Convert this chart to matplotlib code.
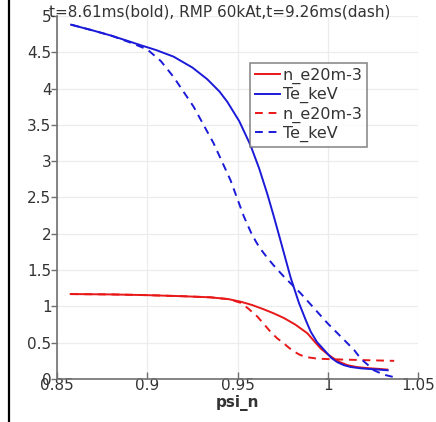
import matplotlib
matplotlib.use("Agg")
import matplotlib.pyplot as plt
from matplotlib.lines import Line2D

# Profiles at t=8.61 ms (solid) and t=9.26 ms with RMP (dashed)
psi_ne_solid = [0.8576, 0.88, 0.90, 0.92, 0.935, 0.945, 0.9517, 0.958, 0.964, 0.970,
                0.9757, 0.982, 0.9887, 0.9925, 0.9961, 1.000, 1.0035, 1.007, 1.011,
                1.016, 1.022, 1.028, 1.033]
ne_solid = [1.17, 1.165, 1.155, 1.14, 1.125, 1.10, 1.065, 1.02, 0.965, 0.905,
            0.84, 0.75, 0.63, 0.52, 0.42, 0.34, 0.28, 0.23, 0.19,
            0.165, 0.15, 0.14, 0.13]

psi_te_solid = [0.8578, 0.87, 0.88, 0.89, 0.8961, 0.905, 0.9146, 0.925, 0.9332, 0.94,
                0.9443, 0.951, 0.9572, 0.962, 0.9665, 0.970, 0.9739, 0.9794, 0.984,
                0.988, 0.9906, 0.994, 0.998, 1.002, 1.0054, 1.009, 1.0128, 1.018,
                1.022, 1.028, 1.0332]
te_solid = [4.88, 4.80, 4.73, 4.65, 4.60, 4.53, 4.44, 4.29, 4.13, 3.96,
            3.82, 3.55, 3.22, 2.90, 2.55, 2.25, 1.90, 1.40, 1.05,
            0.80, 0.65, 0.51, 0.40, 0.29, 0.23, 0.19, 0.165, 0.148,
            0.14, 0.13, 0.12]

psi_ne_dash = [0.8576, 0.88, 0.90, 0.92, 0.935, 0.945, 0.9517, 0.956, 0.961, 0.9645,
               0.9683, 0.972, 0.9757, 0.9785, 0.9813, 0.984, 0.9869, 0.990, 0.9943,
               1.005, 1.020, 1.0368]
ne_dash = [1.17, 1.165, 1.155, 1.14, 1.125, 1.10, 1.05, 0.97, 0.86, 0.76,
           0.65, 0.56, 0.49, 0.43, 0.38, 0.34, 0.31, 0.295, 0.28,
           0.27, 0.26, 0.25]

psi_te_dash = [0.858, 0.87, 0.88, 0.89, 0.90, 0.9075, 0.9146, 0.9257, 0.9367, 0.9461,
               0.9535, 0.9578, 0.9605, 0.9628, 0.9665, 0.9702, 0.9757, 0.985, 0.9998,
               1.0146, 1.0183, 1.0256, 1.031, 1.036]
te_dash = [4.88, 4.80, 4.73, 4.64, 4.54, 4.38, 4.16, 3.75, 3.25, 2.74,
           2.24, 2.00, 1.88, 1.79, 1.67, 1.56, 1.41, 1.18, 0.77,
           0.40, 0.28, 0.12, 0.06, 0.03]

x_ticks = [0.85, 0.9, 0.95, 1.0, 1.05]
x_tick_labels = ["0.85", "0.9", "0.95", "1", "1.05"]
y_ticks = [0, 0.5, 1, 1.5, 2, 2.5, 3, 3.5, 4, 4.5, 5]
y_tick_labels = ["0", "0.5", "1", "1.5", "2", "2.5", "3", "3.5", "4", "4.5", "5"]

title_text = "t=8.61ms(bold), RMP 60kAt,t=9.26ms(dash)"
x_label = "psi_n"
legend_labels = ["n_e20m-3", "Te_keV", "n_e20m-3", "Te_keV"]

RED = "#e81818"
BLUE = "#1a1ad8"
TEXT = "#333333"
SPINE = "#707070"

W, H = 436, 422
fig = plt.figure(figsize=(W / 100, H / 100), dpi=100)
ax = fig.add_axes([57 / W, 1 - 379 / H, 361 / W, 363 / H])

lw = 1.4
dash = (0, (4, 3))
h1, = ax.plot(psi_ne_solid, ne_solid, color=RED, lw=lw)
h2, = ax.plot(psi_te_solid, te_solid, color=BLUE, lw=lw)
h3, = ax.plot(psi_ne_dash, ne_dash, color=RED, lw=lw, linestyle=dash)
h4, = ax.plot(psi_te_dash, te_dash, color=BLUE, lw=lw, linestyle=dash)

ax.set_xlim(0.85, 1.05)
ax.set_ylim(0, 5)
ax.set_xticks(x_ticks)
ax.set_xticklabels(x_tick_labels)
ax.set_yticks(y_ticks)
ax.set_yticklabels(y_tick_labels)

ax.grid(True, color="#ececec", lw=0.9)
ax.set_axisbelow(True)
for s in ["top", "right"]:
    ax.spines[s].set_visible(False)
for s in ["left", "bottom"]:
    ax.spines[s].set_color(SPINE)
    ax.spines[s].set_linewidth(1.2)

ax.tick_params(axis="y", direction="out", length=4, width=1, color=SPINE,
               labelsize=11, labelcolor=TEXT, pad=0)
ax.tick_params(axis="x", direction="in", length=5, width=1, color=SPINE,
               labelsize=11, labelcolor=TEXT, pad=-1)

ax.set_xlabel(x_label, fontsize=11, fontweight="bold", color=TEXT, labelpad=2)

leg = ax.legend([h1, h2, h3, h4], legend_labels, loc="upper left",
                bbox_to_anchor=((250 - 57) / 361, (379 - 63) / 363),
                fontsize=11.5, frameon=True, fancybox=False, borderpad=0.3,
                labelspacing=0.2, handlelength=1.6, handletextpad=0.15,
                borderaxespad=0)
leg.get_frame().set_edgecolor("#707070")
leg.get_frame().set_linewidth(1.2)
for t in leg.get_texts():
    t.set_color(TEXT)

fig.text(49 / W, 1 - 12 / H, title_text, fontsize=11, color=TEXT,
         ha="left", va="center")

fig.add_artist(Line2D([9 / W, 9 / W], [0, 1], color="black", lw=1.6,
                      transform=fig.transFigure))

fig.savefig("out.png", dpi=100)
